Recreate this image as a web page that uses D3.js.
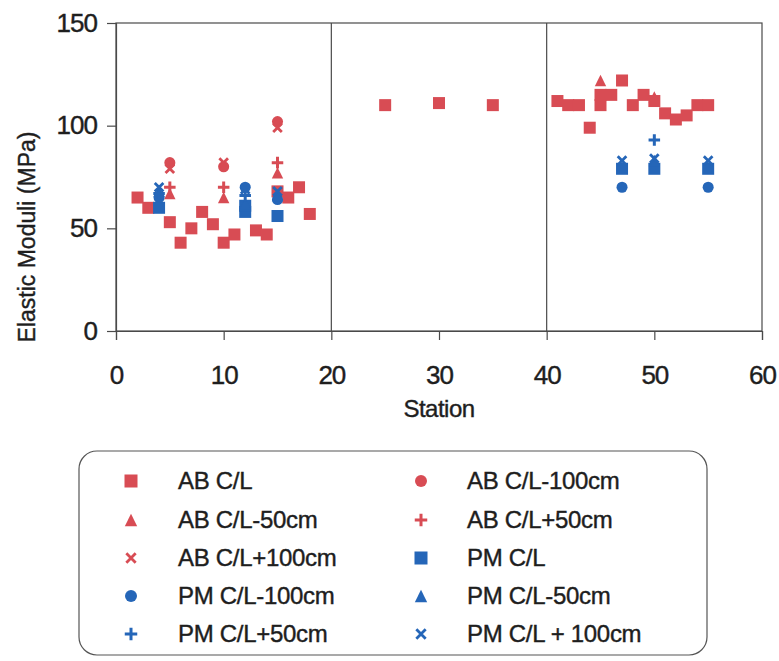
<!DOCTYPE html>
<html><head><meta charset="utf-8">
<script src="https://cdn.jsdelivr.net/npm/d3@7"></script>
<style>
body{margin:0;background:#fff;}
text{font-family:"Liberation Sans",Arial,sans-serif;}
</style></head>
<body><svg id="c" width="779" height="661"></svg>
<script>
// ---- data ----
const seriesNames = ["AB C/L","AB C/L-100cm","AB C/L-50cm","AB C/L+50cm","AB C/L+100cm",
                     "PM C/L","PM C/L-100cm","PM C/L-50cm","PM C/L+50cm","PM C/L + 100cm"];
const seriesShapes = ["square","circle","triangle","plus","cross","square","circle","triangle","plus","cross"];
const seriesGroups = ["AB","AB","AB","AB","AB","PM","PM","PM","PM","PM"];

const abCL_x   = [2,3,5,6,7,8,9,10,11,13,14,15,16,17,18,25,30,35,41,42,43,44,45,45,46,47,48,49,50,51,52,53,54,55];
const abCL_y   = [65,60,53,43,50,58,52,43,47,49,47,68,65,70,57,110,111,110,112,110,110,99,110,115,115,122,110,115,112,106,103,105,110,110];
const abM100_x = [5,10,15];
const abM100_y = [82,80,102];
const abM50_x  = [5,10,15,45,50];
const abM50_y  = [67,65,77,122,114];
const abP50_x  = [5,10,15];
const abP50_y  = [70,70,82];
const abP100_x = [5,10,15];
const abP100_y = [79,82,99];

const pmCL_x   = [4,12,12,15,47,50,55];
const pmCL_y   = [60,58,61,56,79,79,79];
const pmM100_x = [4,12,15,47,55];
const pmM100_y = [65,70,64,70,70];
const pmM50_x  = [4,12,15,50];
const pmM50_y  = [68,62,66,83];
const pmP50_x  = [4,12,50];
const pmP50_y  = [67,66,93];
const pmP100_x = [4,12,15,47,50,55];
const pmP100_y = [70,69,68,83,84,83];

const xTicks = [0,10,20,30,40,50,60];
const yTicks = [0,50,100,150];
const dividers = [20,40];

const seriesX = [abCL_x,abM100_x,abM50_x,abP50_x,abP100_x,pmCL_x,pmM100_x,pmM50_x,pmP50_x,pmP100_x];
const seriesY = [abCL_y,abM100_y,abM50_y,abP50_y,abP100_y,pmCL_y,pmM100_y,pmM50_y,pmP50_y,pmP100_y];

// ---- drawing ----
const colors = {AB:"#d84c54", PM:"#2566b8"};
const svg = d3.select("#c");
const x = d3.scaleLinear().domain([0,60]).range([116,762]);
const y = d3.scaleLinear().domain([0,150]).range([331,23]);
const axisColor = "#4a4a4a";
const textColor = "#1e1e1e";

// frame
svg.append("rect").attr("x",x(0)).attr("y",y(150)).attr("width",x(60)-x(0)).attr("height",y(0)-y(150))
  .attr("fill","none").attr("stroke",axisColor).attr("stroke-width",1.2);
svg.selectAll("line.div").data(dividers).enter().append("line")
  .attr("x1",d=>x(d)).attr("x2",d=>x(d)).attr("y1",y(150)).attr("y2",y(0))
  .attr("stroke",axisColor).attr("stroke-width",1.2);

const xa = svg.append("g").attr("transform",`translate(0,${y(0)})`)
  .call(d3.axisBottom(x).tickValues(xTicks).tickSize(9).tickPadding(26).tickFormat(d3.format("d")));
const ya = svg.append("g").attr("transform",`translate(${x(0)},0)`)
  .call(d3.axisLeft(y).tickValues(yTicks).tickSize(9).tickPadding(10).tickFormat(d3.format("d")));
[xa,ya].forEach(g=>{
  g.select(".domain").attr("stroke",axisColor).attr("stroke-width",1.2);
  g.selectAll(".tick line").attr("stroke",axisColor).attr("stroke-width",1.2);
  g.selectAll(".tick text").attr("font-size",26).attr("letter-spacing",-1).attr("fill",textColor)
   .attr("stroke",textColor).attr("stroke-width",0.4)
   .attr("font-family","'Liberation Sans',Arial,sans-serif");
});

svg.append("text").attr("x",(x(0)+x(60))/2).attr("y",417).attr("text-anchor","middle")
  .attr("font-size",24).attr("letter-spacing",-0.5).attr("fill",textColor).attr("stroke",textColor).attr("stroke-width",0.4).text("Station");
svg.append("text").attr("transform",`translate(35,237) rotate(-90)`)
  .attr("text-anchor","middle").attr("font-size",23).attr("fill",textColor)
  .attr("stroke",textColor).attr("stroke-width",0.4).text("Elastic Moduli (MPa)");

function drawMarker(g, shape, cx, cy, col, s){
  if(shape==="square"){
    g.append("rect").attr("x",cx-s/2).attr("y",cy-s/2).attr("width",s).attr("height",s).attr("fill",col);
  } else if(shape==="circle"){
    g.append("circle").attr("cx",cx).attr("cy",cy).attr("r",s*0.46).attr("fill",col);
  } else if(shape==="triangle"){
    const h=s*0.95, w=s*0.95;
    g.append("path").attr("d",`M${cx},${cy-h/2}L${cx+w/2},${cy+h/2}L${cx-w/2},${cy+h/2}Z`).attr("fill",col);
  } else if(shape==="plus"){
    const a=s*0.48;
    g.append("path").attr("d",`M${cx-a},${cy}H${cx+a}M${cx},${cy-a}V${cy+a}`).attr("stroke",col).attr("stroke-width",3).attr("fill","none");
  } else if(shape==="cross"){
    const a=s*0.36;
    g.append("path").attr("d",`M${cx-a},${cy-a}L${cx+a},${cy+a}M${cx+a},${cy-a}L${cx-a},${cy+a}`).attr("stroke",col).attr("stroke-width",2.8).attr("fill","none");
  }
}

const pts = svg.append("g");
seriesNames.forEach((n,i)=>{
  const col = colors[seriesGroups[i]];
  seriesX[i].forEach((sx,j)=>{
    drawMarker(pts, seriesShapes[i], x(sx), y(seriesY[i][j]), col, 12);
  });
});

// legend
const lg = svg.append("g");
lg.append("rect").attr("x",79).attr("y",451).attr("width",628).attr("height",204).attr("rx",18)
  .attr("fill","#fff").attr("stroke","#555").attr("stroke-width",1.2);
const rowY = [481,520,558,596,634];
const colX = [[131,178],[421,467]];
seriesNames.forEach((n,i)=>{
  const r = Math.floor(i/2), c = i%2;
  const col = colors[seriesGroups[i]];
  drawMarker(lg, seriesShapes[i], colX[c][0], rowY[r], col, 13);
  lg.append("text").attr("x",colX[c][1]).attr("y",rowY[r]).attr("dy","0.35em")
    .attr("font-size",24).attr("letter-spacing",-0.3).attr("fill",textColor).attr("stroke",textColor).attr("stroke-width",0.4).text(n);
});
</script></body></html>
